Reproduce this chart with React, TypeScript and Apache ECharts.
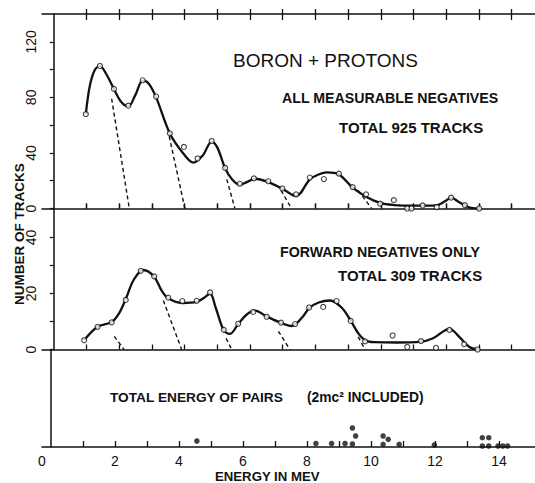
import React, { useEffect, useRef } from "react";
import * as echarts from "echarts";

// ---- data ----
// Top panel: all measurable negatives (925 tracks)
const topPoints: [number, number][] = [
  [0.98, 67.9], [1.41, 102.6], [1.84, 86.1], [2.28, 74], [2.72, 92.3], [3.13, 80.6],
  [3.55, 54.1], [3.98, 44.3], [4.4, 36], [4.83, 48.6], [5.24, 29.2], [5.69, 17.8],
  [6.12, 21.7], [6.56, 19.6], [6.99, 14.4], [7.41, 10.2], [7.83, 22.3], [8.26, 21.2],
  [8.72, 25.1], [9.14, 15.4], [9.55, 10.2], [9.98, 3.5], [10.4, 6.0], [10.81, 0],
  [10.94, 0], [11.28, 2.2], [11.71, 1.0], [12.15, 7.8], [12.57, 2.4], [13.01, 0],
];
const topCurve: [number, number][] = [
  [0.98, 68], [1.1, 88], [1.25, 99.5], [1.41, 102.5], [1.6, 97], [1.84, 86], [2.05, 77],
  [2.28, 73.5], [2.5, 82], [2.72, 92], [2.9, 90], [3.13, 80], [3.55, 54], [3.98, 39],
  [4.27, 33], [4.55, 38], [4.83, 48], [5.0, 44], [5.24, 29], [5.45, 21], [5.69, 17],
  [5.9, 19], [6.15, 21.4], [6.56, 19], [6.99, 14.2], [7.41, 9], [7.83, 21], [8.1, 24.5],
  [8.35, 26], [8.72, 24.5], [9.14, 15], [9.55, 8.5], [9.98, 4], [10.4, 2.5], [11.0, 2],
  [11.7, 2.3], [11.95, 5], [12.15, 7.8], [12.4, 4.5], [12.7, 0.8], [13.0, 0],
];
const topDashes: [number, number][][] = [
  [[1.77, 79], [2.31, 0]],
  [[3.53, 52], [4.01, 0]],
  [[5.29, 21], [5.54, 0]],
  [[6.95, 13], [7.27, 0]],
  [[9.31, 13], [9.72, 0]],
];

// Middle panel: forward negatives only (309 tracks)
const midPoints: [number, number][] = [
  [0.93, 3.3], [1.34, 8.1], [1.77, 9.7], [2.2, 17.7], [2.66, 28.1], [3.07, 26.1],
  [3.5, 18.5], [3.93, 17.3], [4.37, 17.4], [4.78, 20.4], [5.2, 7.0], [5.64, 9.2],
  [6.1, 13.4], [6.51, 11.7], [6.95, 9.6], [7.38, 9.1], [7.81, 15.0], [8.24, 15.2],
  [8.65, 17.3], [9.08, 10.2], [9.52, 2.9], [10.36, 5.0], [10.81, 0.9], [11.23, 3.0],
  [11.69, 0.6], [12.1, 7.0], [12.55, 1.9], [12.96, 0],
];
const midCurve: [number, number][] = [
  [0.93, 3.3], [1.34, 8.1], [1.77, 9.8], [2.0, 13], [2.2, 18], [2.45, 25], [2.74, 28.4],
  [3.07, 26], [3.3, 21], [3.5, 18.3], [3.93, 16.6], [4.37, 17], [4.6, 18.5], [4.78, 20],
  [4.95, 15], [5.2, 6.8], [5.39, 5.6], [5.64, 9.1], [5.9, 12.5], [6.15, 13.9], [6.51, 11.8],
  [6.95, 9.5], [7.27, 8.4], [7.6, 11.5], [7.81, 14.8], [8.1, 16.8], [8.45, 17.5], [8.8, 15],
  [9.08, 10.3], [9.3, 6], [9.52, 3.3], [9.8, 2.6], [10.5, 2.5], [11.2, 2.7], [11.6, 4],
  [12.1, 7.4], [12.4, 4.5], [12.7, 1], [12.96, 0],
];
const midDashes: [number, number][][] = [
  [[1.85, 4.7], [2.15, 0]],
  [[3.35, 17.5], [3.91, 0]],
  [[5.27, 4], [5.44, 0]],
  [[6.87, 6.5], [7.22, 0]],
  [[9.31, 4.5], [9.52, 0]],
];

// Bottom panel: total energy of pairs (dots stacked above the axis)
const pairDots: [number, number][] = [
  [4.56, 6], [8.28, 3.5], [8.77, 3.5], [9.19, 3.5], [9.42, 3], [9.42, 19], [9.52, 11],
  [10.38, 11], [10.38, 2.7], [10.54, 7.7], [10.88, 2.7], [11.98, 2], [13.48, 9.3],
  [13.48, 1], [13.68, 9.3], [13.68, 1], [13.97, 1], [14.12, 1], [14.27, 1],
];

const xTickValues = [1, 2, 3, 4, 5, 6, 7, 8, 9, 10, 11, 12, 13, 14];
const xLabelValues = [0, 2, 4, 6, 8, 10, 12, 14];
const topYTicks = [0, 20, 40, 60, 80, 100, 120];
const topYLabels = [0, 40, 80, 120];
const midYTicks = [0, 10, 20, 30, 40];
const midYLabels = [0, 20, 40];

const FONT = "Liberation Sans, Arial, sans-serif";

export default function App() {
  const ref = useRef<HTMLDivElement>(null);
  useEffect(() => {
    if (!ref.current) return;
    const chart = echarts.init(ref.current, undefined, { renderer: "svg" });

    const topMin = -0.36, topMax = 14.716;
    const botMin = -0.28, botMax = 15.126;
    const lineC = "#111";

    const baseX = (grid: number, min: number, max: number) => ({
      type: "value",
      gridIndex: grid,
      min,
      max,
      splitLine: { show: false },
      axisLine: { show: true, lineStyle: { color: lineC, width: 1.5 } },
      axisLabel: { show: false },
      axisTick: { show: true, customValues: xTickValues, inside: true, length: 5, lineStyle: { color: lineC, width: 1.3 } },
    });

    const xAxes: any[] = [
      // 0 top grid bottom (ticks up)
      baseX(0, topMin, topMax),
      // 1 top grid bottom (ticks down)
      { ...baseX(0, topMin, topMax), axisLine: { show: false }, axisTick: { show: true, customValues: xTickValues, inside: false, length: 5, lineStyle: { color: lineC, width: 1.3 } } },
      // 2 top frame
      { ...baseX(0, topMin, topMax), position: "top", axisTick: { show: true, customValues: xTickValues, inside: true, length: 6, lineStyle: { color: lineC, width: 1.3 } } },
      // 3 mid grid bottom (ticks up)
      baseX(1, topMin, topMax),
      // 4 mid grid bottom (ticks down)
      { ...baseX(1, topMin, topMax), axisLine: { show: false }, axisTick: { show: true, customValues: xTickValues, inside: false, length: 5, lineStyle: { color: lineC, width: 1.3 } } },
      // 5 bottom grid axis with labels
      {
        ...baseX(2, botMin, botMax),
        axisTick: { show: true, customValues: xTickValues, inside: true, length: 6, lineStyle: { color: lineC, width: 1.3 } },
        axisLabel: {
          show: true,
          customValues: xLabelValues.map((v) => (v === 0 ? botMin : v)),
          formatter: (v: number) => (v < 0.5 ? "0" : String(v)),
          color: lineC,
          fontSize: 14,
          fontFamily: FONT,
          margin: 7,
        },
      },
    ];

    const yAxes: any[] = [
      {
        type: "value", gridIndex: 0, min: 0, max: 140,
        splitLine: { show: false },
        axisLine: { show: true, lineStyle: { color: lineC, width: 1.5 } },
        axisTick: { show: true, customValues: topYTicks, length: 4, lineStyle: { color: lineC, width: 1.2 } },
        axisLabel: { customValues: topYLabels, rotate: 90, color: lineC, fontSize: 14, fontFamily: FONT, margin: 4 },
      },
      {
        type: "value", gridIndex: 1, min: 0, max: 50.36,
        splitLine: { show: false },
        axisLine: { show: true, lineStyle: { color: lineC, width: 1.5 } },
        axisTick: { show: true, customValues: midYTicks, length: 4, lineStyle: { color: lineC, width: 1.2 } },
        axisLabel: { customValues: midYLabels, rotate: 90, color: lineC, fontSize: 14, fontFamily: FONT, margin: 4 },
      },
      {
        type: "value", gridIndex: 2, min: 0, max: 97.5,
        splitLine: { show: false },
        axisLine: { show: true, lineStyle: { color: lineC, width: 1.5 } },
        axisTick: { show: false },
        axisLabel: { show: false },
      },
    ];

    const curve = (data: [number, number][], xi: number, yi: number) => ({
      type: "line", xAxisIndex: xi, yAxisIndex: yi, data, smooth: 0.35, showSymbol: false,
      lineStyle: { color: lineC, width: 2.3 }, z: 3, silent: true,
    });
    const pts = (data: [number, number][], xi: number, yi: number) => ({
      type: "scatter", xAxisIndex: xi, yAxisIndex: yi, data, symbol: "circle", symbolSize: 5,
      itemStyle: { color: "#fff", borderColor: lineC, borderWidth: 1.1 }, z: 5, silent: true,
    });
    const dash = (data: [number, number][], xi: number, yi: number) => ({
      type: "line", xAxisIndex: xi, yAxisIndex: yi, data, showSymbol: false,
      lineStyle: { color: lineC, width: 1.4, type: [4, 3] }, z: 2, silent: true,
    });

    const series: any[] = [
      curve(topCurve, 0, 0),
      pts(topPoints, 0, 0),
      ...topDashes.map((d) => dash(d, 0, 0)),
      curve(midCurve, 3, 1),
      pts(midPoints, 3, 1),
      ...midDashes.map((d) => dash(d, 3, 1)),
      {
        type: "scatter", xAxisIndex: 5, yAxisIndex: 2, data: pairDots, symbol: "circle", symbolSize: 5.5,
        itemStyle: { color: lineC }, silent: true,
      },
    ];

    const txt = (text: string, x: number, y: number, size: number, weight: string) => ({
      type: "text", x, y,
      style: { text, font: `${weight} ${size}px ${FONT}`, fill: lineC, textAlign: "left", textVerticalAlign: "middle" },
    });

    chart.setOption({
      animation: false,
      backgroundColor: "#fff",
      grid: [
        { left: 42, right: 0, top: 14, height: 194.5 },
        { left: 42, right: 0, top: 208.5, height: 141 },
        { left: 42, right: 0, top: 349.5, height: 97.5 },
      ],
      xAxis: xAxes,
      yAxis: yAxes,
      series,
      graphic: [
        txt("BORON + PROTONS", 233, 60, 19, "normal"),
        txt("ALL MEASURABLE NEGATIVES", 282, 98, 14.2, "bold"),
        txt("TOTAL 925 TRACKS", 339, 127, 15, "bold"),
        txt("FORWARD NEGATIVES ONLY", 280, 252, 14.2, "bold"),
        txt("TOTAL 309 TRACKS", 338, 275, 15, "bold"),
        txt("TOTAL ENERGY OF PAIRS", 110, 397, 13.7, "bold"),
        txt("(2mc² INCLUDED)", 307, 397, 13.8, "bold"),
        txt("ENERGY IN MEV", 215, 476, 13.2, "bold"),
        {
          type: "text", x: 19, y: 234, rotation: Math.PI / 2,
          style: { text: "NUMBER OF TRACKS", font: `bold 13.5px ${FONT}`, fill: lineC, textAlign: "center", textVerticalAlign: "middle" },
        },
      ],
    });
    return () => chart.dispose();
  }, []);
  return (
    <div
      ref={ref}
      style={{ position: "absolute", left: 0, top: 0, width: 535, height: 483, background: "#fff" }}
    />
  );
}
